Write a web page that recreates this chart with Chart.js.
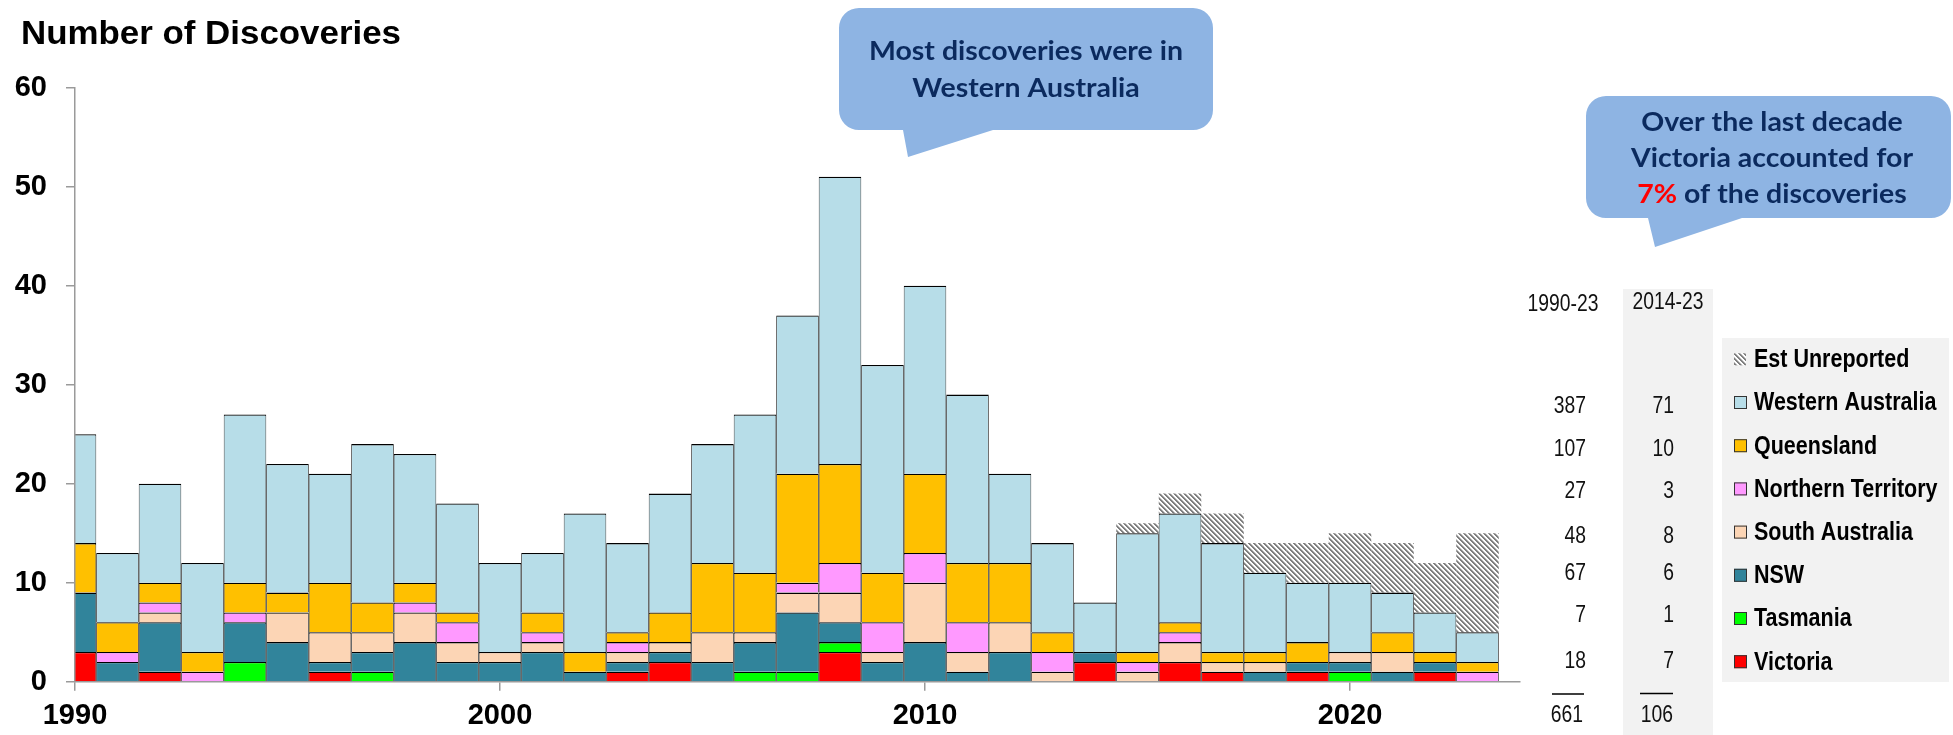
<!DOCTYPE html>
<html>
<head>
<meta charset="utf-8">
<script src="https://cdn.jsdelivr.net/npm/chart.js@4.4.1/dist/chart.umd.min.js"></script>
<style>
  html, body { margin: 0; padding: 0; background: #ffffff; }
  canvas { display: block; }
</style>
</head>
<body>
<canvas id="chart" width="1953" height="735"></canvas>
<script>
// ---- Data: discoveries per year by state ----
const years = [1990, 1991, 1992, 1993, 1994, 1995, 1996, 1997, 1998, 1999,
               2000, 2001, 2002, 2003, 2004, 2005, 2006, 2007, 2008, 2009,
               2010, 2011, 2012, 2013, 2014, 2015, 2016, 2017, 2018, 2019,
               2020, 2021, 2022, 2023];

const victoria        = [3, 0, 1, 0, 0, 0, 1, 0, 0, 0,  0, 0, 0, 1, 2, 0, 0, 0, 3, 0,  0, 0, 0, 0, 2, 0, 2, 1, 0, 1,  0, 0, 1, 0];
const tasmania        = [0, 0, 0, 0, 2, 0, 0, 1, 0, 0,  0, 0, 0, 0, 0, 0, 1, 1, 1, 0,  0, 0, 0, 0, 0, 0, 0, 0, 0, 0,  1, 0, 0, 0];
const nsw             = [6, 2, 5, 0, 4, 4, 1, 2, 4, 2,  2, 3, 1, 1, 1, 2, 3, 6, 2, 2,  4, 1, 3, 0, 1, 0, 0, 0, 1, 1,  1, 1, 1, 0];
const southAustralia  = [0, 0, 1, 0, 0, 3, 3, 2, 3, 2,  1, 1, 0, 1, 1, 3, 1, 2, 3, 1,  6, 2, 3, 1, 0, 1, 2, 1, 1, 0,  1, 2, 0, 0];
const northernTerr    = [0, 1, 1, 1, 1, 0, 0, 0, 1, 2,  0, 1, 0, 1, 0, 0, 0, 1, 3, 3,  3, 3, 0, 2, 0, 1, 1, 0, 0, 0,  0, 0, 0, 1];
const queensland      = [5, 3, 2, 2, 3, 2, 5, 3, 2, 1,  0, 2, 2, 1, 3, 7, 6, 11, 10, 5, 8, 6, 6, 2, 0, 1, 1, 1, 1, 2,  0, 2, 1, 1];
const westernAust     = [11, 7, 10, 9, 17, 13, 11, 16, 13, 11,  9, 6, 14, 9, 12, 12, 16, 16, 29, 21,  19, 17, 9, 9, 5, 12, 11, 11, 8, 6,  7, 4, 4, 3];
const estUnreported   = [0, 0, 0, 0, 0, 0, 0, 0, 0, 0,  0, 0, 0, 0, 0, 0, 0, 0, 0, 0,  0, 0, 0, 0, 0, 1, 2, 3, 3, 4,  5, 5, 5, 10];

const seriesNames = ['Victoria', 'Tasmania', 'NSW', 'South Australia', 'Northern Territory', 'Queensland', 'Western Australia', 'Est Unreported'];
const xTickValues = [1990, 2000, 2010, 2020];
const yTickValues = [0, 10, 20, 30, 40, 50, 60];
const periodLabels = ['1990-23', '2014-23'];
const recentFrom = 2014;

// ---- Styles ----
const FONT = "'Liberation Sans', Arial, sans-serif";
const colors = {
  'Victoria': '#FF0000',
  'Tasmania': '#00FF00',
  'NSW': '#31849B',
  'South Australia': '#FCD5B5',
  'Northern Territory': '#FF99FF',
  'Queensland': '#FFC000',
  'Western Australia': '#B7DDE8'
};

const canvas = document.getElementById('chart');
const ctx = canvas.getContext('2d');

// diagonal grey hatch used for the unreported estimate
function makeHatch() {
  const n = 5;
  const tile = document.createElement('canvas');
  tile.width = n; tile.height = n;
  const g = tile.getContext('2d');
  const img = g.createImageData(n, n);
  for (let y = 0; y < n; y++) {
    for (let x = 0; x < n; x++) {
      const d = ((x - y) % n + n) % n;
      const v = d < 2 ? 128 : (d === 2 ? 190 : 255);
      const i = (y * n + x) * 4;
      img.data[i] = v; img.data[i + 1] = v; img.data[i + 2] = v; img.data[i + 3] = 255;
    }
  }
  g.putImageData(img, 0, 0);
  return ctx.createPattern(tile, 'repeat');
}
const hatch = makeHatch();

const seriesValues = [victoria, tasmania, nsw, southAustralia, northernTerr, queensland, westernAust, estUnreported];

const datasets = seriesNames.map((name, i) => ({
  label: name,
  data: seriesValues[i],
  backgroundColor: name === 'Est Unreported' ? hatch : colors[name],
  borderColor: '#000000',
  borderWidth: name === 'Est Unreported' ? 0 : { top: 1.3, bottom: 0, left: 0.8, right: 0.8 },
  borderSkipped: false,
  inflateAmount: 0
}));

// ---- helpers for the annotation layer ----
function text(c, s, x, y, o) {
  c.save();
  c.font = o.font;
  c.fillStyle = o.color || '#000';
  c.textAlign = o.align || 'left';
  c.textBaseline = o.base || 'middle';
  c.translate(x, y);
  c.scale(o.sx || 1, 1);
  c.fillText(s, 0, 0);
  c.restore();
}
function measure(c, s, font) {
  c.save(); c.font = font; const w = c.measureText(s).width; c.restore(); return w;
}
function bubble(c, x0, y0, x1, y1, r, tailL, tip, tailR, fill) {
  c.save();
  c.fillStyle = fill;
  c.beginPath();
  c.moveTo(x0 + r, y0);
  c.lineTo(x1 - r, y0); c.arcTo(x1, y0, x1, y0 + r, r);
  c.lineTo(x1, y1 - r); c.arcTo(x1, y1, x1 - r, y1, r);
  c.lineTo(tailR, y1); c.lineTo(tip[0], tip[1]); c.lineTo(tailL, y1);
  c.lineTo(x0 + r, y1); c.arcTo(x0, y1, x0, y1 - r, r);
  c.lineTo(x0, y0 + r); c.arcTo(x0, y0, x0 + r, y0, r);
  c.closePath();
  c.fill();
  c.restore();
}
const sum = a => a.reduce((s, v) => s + v, 0);

const annotations = {
  id: 'annotations',
  beforeDraw(chart) {
    const c = chart.ctx;
    c.save();
    c.fillStyle = '#ffffff';
    c.fillRect(0, 0, chart.width, chart.height);
    // shaded column for the recent decade
    c.fillStyle = '#F2F2F2';
    c.fillRect(1623, 289, 90, 446);
    // legend panel
    c.fillRect(1722, 338, 227, 344);
    c.restore();
  },
  afterDraw(chart) {
    const c = chart.ctx;

    // title
    const tFont = `bold 33px ${FONT}`;
    const tStr = 'Number of Discoveries';
    text(c, tStr, 21, 44.3, { font: tFont, base: 'alphabetic', sx: 380 / measure(c, tStr, tFont) });

    // totals table
    const tabFont = `23px ${FONT}`;
    const tsx = 0.84;
    text(c, periodLabels[0], 1563, 305, { font: tabFont, align: 'center', sx: tsx, color: '#111' });
    text(c, periodLabels[1], 1668, 303, { font: tabFont, align: 'center', sx: tsx, color: '#111' });

    const recentIdx = years.indexOf(recentFrom);
    const tableOrder = [westernAust, queensland, northernTerr, southAustralia, nsw, tasmania, victoria];
    const rowY = [406.7, 450, 491.7, 536.7, 574, 615.7, 661.7];
    tableOrder.forEach((arr, i) => {
      text(c, String(sum(arr)), 1586, rowY[i], { font: tabFont, align: 'right', sx: tsx, color: '#111' });
      text(c, String(sum(arr.slice(recentIdx))), 1674, rowY[i], { font: tabFont, align: 'right', sx: tsx, color: '#111' });
    });
    c.save();
    c.strokeStyle = '#000'; c.lineWidth = 1.5;
    c.beginPath();
    c.moveTo(1552, 694); c.lineTo(1584, 694);
    c.moveTo(1640, 693.5); c.lineTo(1673, 693.5);
    c.stroke();
    c.restore();
    const allTotal = sum(tableOrder.map(sum));
    const recentTotal = sum(tableOrder.map(a => sum(a.slice(recentIdx))));
    text(c, String(allTotal), 1583, 716, { font: tabFont, align: 'right', sx: tsx, color: '#111' });
    text(c, String(recentTotal), 1673, 716, { font: tabFont, align: 'right', sx: tsx, color: '#111' });

    // legend
    const legFont = `bold 25px ${FONT}`;
    const legendOrder = ['Est Unreported', 'Western Australia', 'Queensland', 'Northern Territory', 'South Australia', 'NSW', 'Tasmania', 'Victoria'];
    legendOrder.forEach((name, i) => {
      const y = 359.3 + i * 43.2;
      c.save();
      if (name === 'Est Unreported') {
        c.fillStyle = hatch;
        c.fillRect(1734, y - 6, 12, 12);
      } else {
        c.fillStyle = colors[name];
        c.fillRect(1734, y - 6.5, 13, 13);
        c.strokeStyle = '#333'; c.lineWidth = 1;
        c.strokeRect(1734.5, y - 6, 12, 12);
      }
      c.restore();
      text(c, name, 1754, y + 1, { font: legFont, sx: 0.86, color: '#000' });
    });

    // callouts
    const cFill = '#8EB4E3';
    const navy = '#0B2A5E';
    const cFont = `bold 26px Lato, 'Open Sans', sans-serif`;

    bubble(c, 839, 8, 1213, 130, 20, 903, [908, 157], 993, cFill);
    const l1 = ['Most discoveries were in', 'Western Australia'];
    const s1 = 314 / measure(c, l1[0], cFont);
    text(c, l1[0], 1026, 52, { font: cFont, align: 'center', sx: s1, color: navy });
    text(c, l1[1], 1026, 89, { font: cFont, align: 'center', sx: s1, color: navy });

    bubble(c, 1586, 96, 1951, 218, 20, 1648, [1655, 247], 1742, cFill);
    const vicShare = Math.round(100 * sum(victoria.slice(recentIdx)) / recentTotal) + '%';
    const l2 = ['Over the last decade', 'Victoria accounted for'];
    const s2 = 282 / measure(c, l2[1], cFont);
    text(c, l2[0], 1772, 123, { font: cFont, align: 'center', sx: s2, color: navy });
    text(c, l2[1], 1772, 159, { font: cFont, align: 'center', sx: s2, color: navy });
    const rest = ' of the discoveries';
    const wA = measure(c, vicShare, cFont) * s2;
    const wB = measure(c, rest, cFont) * s2;
    const startX = 1772 - (wA + wB) / 2;
    text(c, vicShare, startX, 195, { font: cFont, sx: s2, color: '#FF0000' });
    text(c, rest, startX + wA, 195, { font: cFont, sx: s2, color: navy });
  }
};

const axisGrey = '#9A9A9A';
const tickFont = { family: FONT, size: 29, weight: 'bold' };

new Chart(ctx, {
  type: 'bar',
  data: { labels: years, datasets },
  options: {
    responsive: false,
    animation: false,
    devicePixelRatio: 1,
    layout: { padding: { top: 87.7, right: 433, left: 0, bottom: 0 } },
    plugins: {
      legend: { display: false },
      tooltip: { enabled: false },
      title: { display: false }
    },
    datasets: {
      bar: { barPercentage: 1, categoryPercentage: 1, clip: 0 }
    },
    scales: {
      x: {
        type: 'linear',
        stacked: true,
        min: 1990,
        max: 2024,
        offset: false,
        afterBuildTicks: s => { s.ticks = xTickValues.map(v => ({ value: v })); },
        afterFit: s => { s.height = 53.3; },
        grid: { offset: false, drawOnChartArea: false, drawTicks: true, tickLength: 9, color: axisGrey, lineWidth: 1.5 },
        border: { color: axisGrey, width: 1.5, z: 1 },
        ticks: { font: tickFont, color: '#000', padding: 8, maxRotation: 0, autoSkip: false, callback: v => String(v) }
      },
      y: {
        stacked: true,
        min: 0,
        max: 60,
        afterBuildTicks: s => { s.ticks = yTickValues.map(v => ({ value: v })); },
        afterFit: s => { s.width = 75; },
        grid: { drawOnChartArea: false, drawTicks: true, tickLength: 9, color: axisGrey, lineWidth: 1.5 },
        border: { color: axisGrey, width: 1.5, z: 1 },
        ticks: { font: tickFont, color: '#000', padding: 19, callback: v => String(v) }
      }
    }
  },
  plugins: [annotations]
});
</script>
</body>
</html>
